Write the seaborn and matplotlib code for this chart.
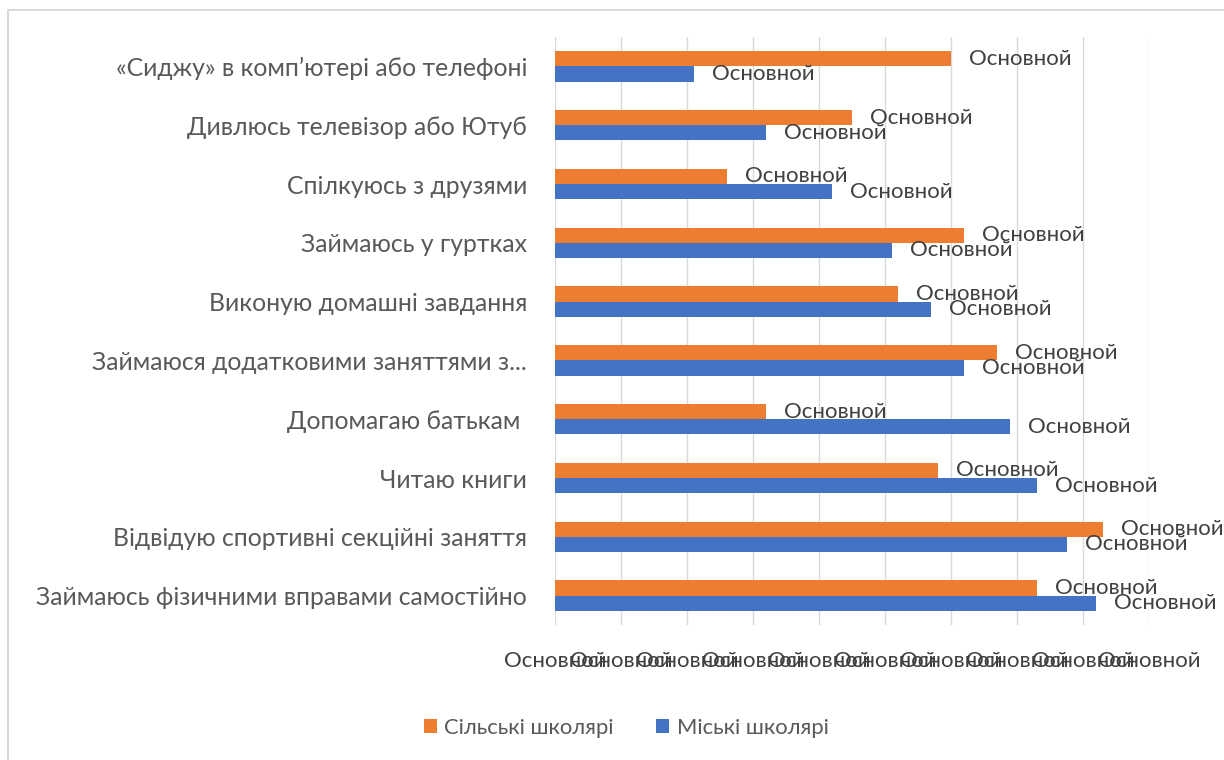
import numpy as np
import pandas as pd
import matplotlib
matplotlib.use("Agg")
import matplotlib.pyplot as plt
from matplotlib.lines import Line2D
import seaborn as sns

# categories, top to bottom
categories = [
    "«Сиджу» в комп’ютері або телефоні",
    "Дивлюсь телевізор або Ютуб",
    "Спілкуюсь з друзями",
    "Займаюсь у гуртках",
    "Виконую домашні завдання",
    "Займаюся додатковими заняттями з...",
    "Допомагаю батькам ",
    "Читаю книги",
    "Відвідую спортивні секційні заняття",
    "Займаюсь фізичними вправами самостійно",
]
series_names = ["Сільські школярі", "Міські школярі"]
rural = [60, 45, 26, 62, 52, 67, 32, 58, 83, 73]
urban = [21, 32, 42, 51, 57, 62, 69, 73, 77.5, 82]
tick_values = [0, 10, 20, 30, 40, 50, 60, 70, 80, 90]
label_text = "Основной"
colors = ["#ED7D31", "#4472C4"]

df = pd.DataFrame({
    "category": categories * 2,
    "group": [series_names[0]] * len(categories) + [series_names[1]] * len(categories),
    "value": rural + urban,
})

sns.set_style("white")
plt.rcParams["font.family"] = ["Lato", "DejaVu Sans"]

fig = plt.figure(figsize=(12.24, 7.6), dpi=100)
ax = fig.add_axes([555 / 1224, 1 - 625 / 760, 594 / 1224, 588 / 760])

sns.barplot(data=df, y="category", x="value", hue="group", order=categories,
            hue_order=series_names, palette=colors, orient="h", width=0.52,
            saturation=1, linewidth=0, ax=ax)

ax.set_xlim(0, 90)
ax.set_xticks(tick_values)
ax.set_xticklabels([label_text] * len(tick_values), fontsize=16, color="#404040")
ax.tick_params(axis="x", length=0, pad=19)
ax.tick_params(axis="y", length=0, pad=20, labelsize=17.8, labelcolor="#595959")
ax.grid(axis="x", color="#D9D9D9", linewidth=1)
ax.set_axisbelow(True)
ax.set_xlabel("")
ax.set_ylabel("")
for s in ax.spines.values():
    s.set_visible(False)

# data labels
for cont in ax.containers:
    ax.bar_label(cont, labels=[label_text] * len(cont), padding=13,
                 fontsize=16, color="#404040")

ax.legend(loc="upper center", ncol=2, frameon=False,
          fontsize=15.8, handlelength=0.6, handleheight=0.6, columnspacing=1.9,
          handletextpad=0.35, labelcolor="#595959")
ax.get_legend().set_bbox_to_anchor((626 / 1224, 1 - 698 / 760), transform=fig.transFigure)

# chart border
fig.add_artist(Line2D([7.5 / 1224, 7.5 / 1224], [0, 1 - 9.5 / 760], color="#D9D9D9",
                      linewidth=1.5, transform=fig.transFigure))
fig.add_artist(Line2D([7.5 / 1224, 1], [1 - 9.5 / 760, 1 - 9.5 / 760], color="#D9D9D9",
                      linewidth=1.5, transform=fig.transFigure))

fig.savefig("out.png", dpi=100)
